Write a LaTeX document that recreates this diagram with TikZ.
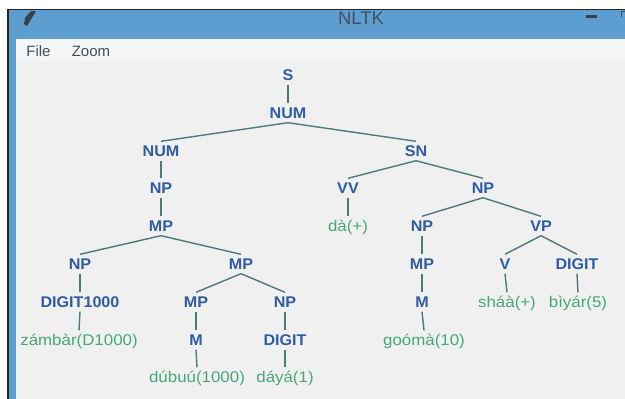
\documentclass[tikz,border=0pt]{standalone}
\usepackage{fontspec}
\setmainfont{Liberation Sans}
\newfontfamily\leaffont[FakeStretch=1.09]{Liberation Sans}
\newfontfamily\catfont[FakeStretch=1.04]{Liberation Sans Bold}
\definecolor{titleblue}{HTML}{5E9DD0}
\definecolor{panel}{HTML}{F0F0F0}
\definecolor{menubar}{HTML}{F4F5F7}
\definecolor{catblue}{HTML}{2F5CA3}
\definecolor{leafgreen}{HTML}{45A878}
\definecolor{edgeteal}{HTML}{4A7C7A}
\definecolor{inkgray}{HTML}{44505C}
\tikzset{
  base/.style={inner xsep=0pt,inner ysep=2.5pt,text height=12.5pt,text depth=1.5pt},
  cat/.style={base,text=catblue,font=\fontsize{15.5}{15.5}\catfont},
  leaf/.style={base,text=leafgreen,font=\fontsize{15.5}{15.5}\leaffont},
  link/.style={draw=edgeteal,line width=1.4pt},
  menutext/.style={inner sep=0pt,text=inkgray,font=\fontsize{15}{15}\selectfont}
}
\begin{document}
\begin{tikzpicture}[x=1pt,y=-1pt]
\useasboundingbox (0,0) rectangle (625,399);
\fill[white] (0,0) rectangle (625,399);
\fill[titleblue] (8,9) rectangle (625,399);
\fill[black!85] (7,8.5) rectangle (625,10);
\fill[black!85] (7,8.5) rectangle (9,399);
\fill[panel] (16,39) rectangle (625,399);
\fill[menubar] (16,39) rectangle (625,61);
% window furniture
\fill[inkgray!80!black] (24,24) -- (25,18) -- (31,11) -- (36,11) -- (30,21) -- (27,26) -- cycle;
\node[inner sep=0pt,text=inkgray,font=\fontsize{18.5}{18.5}\selectfont] (title) at (361,18.5) {NLTK};
\fill[inkgray!80!black] (586,15) rectangle (597,17.5);
\draw[inkgray,line width=.8pt] (621,17) -- (621,11.5) -- (625,11.5);
\node[menutext] (file) at (38.5,51) {File};
\node[menutext] (zoom) at (91,51) {Zoom};
% tree labels
\node[cat] (s) at (288,75) {S};
\node[cat] (num) at (288,113) {NUM};
\node[cat] (numb) at (161,151) {NUM};
\node[cat] (sn) at (416,151) {SN};
\node[cat] (npa) at (161,188) {NP};
\node[cat] (vv) at (348,188) {VV};
\node[cat] (npb) at (483,188) {NP};
\node[cat] (mpa) at (161,226) {MP};
\node[leaf] (da) at (348,226) {dà(+)};
\node[cat] (npc) at (422,226) {NP};
\node[cat] (vp) at (541,226) {VP};
\node[cat] (npd) at (80,264) {NP};
\node[cat] (mpb) at (241,264) {MP};
\node[cat] (mpc) at (422,264) {MP};
\node[cat] (v) at (505,264) {V};
\node[cat] (digb) at (577,264) {DIGIT};
\node[cat] (dig1k) at (80,302) {DIGIT1000};
\node[cat] (mpd) at (196,302) {MP};
\node[cat] (npe) at (285,302) {NP};
\node[cat] (ma) at (422,302) {M};
\node[leaf] (shaa) at (507,302) {sháà(+)};
\node[leaf] (biyar) at (578,302) {bìyár(5)};
\node[leaf] (zambar) at (79,340) {zámbàr(D1000)};
\node[cat] (mb) at (196,340) {M};
\node[cat] (digc) at (285,340) {DIGIT};
\node[leaf] (gooma) at (424,340) {goómà(10)};
\node[leaf] (dubuu) at (197,377) {dúbuú(1000)};
\node[leaf] (daya) at (285,377) {dáyá(1)};
% connectors
\foreach \p/\c in {s/num,num/numb,num/sn,numb/npa,npa/mpa,sn/vv,sn/npb,vv/da,npb/npc,npb/vp,
  mpa/npd,mpa/mpb,npc/mpc,vp/v,vp/digb,npd/dig1k,mpb/mpd,mpb/npe,mpc/ma,v/shaa,digb/biyar,
  dig1k/zambar,mpd/mb,npe/digc,ma/gooma,mb/dubuu,digc/daya}
  \draw[link] (\p.south) -- (\c.north);
\end{tikzpicture}
\end{document}
